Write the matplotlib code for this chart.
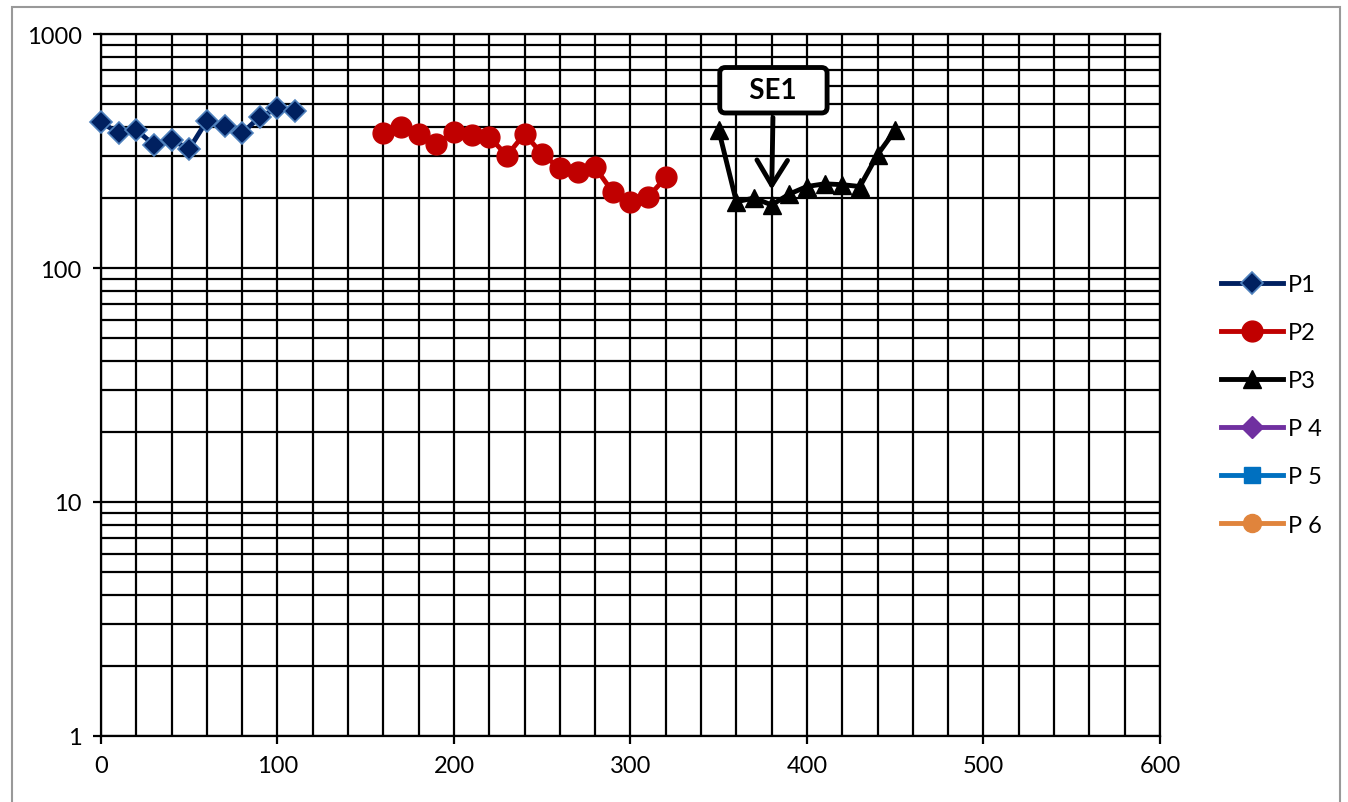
import numpy as np
import matplotlib
matplotlib.use('Agg')
import matplotlib.pyplot as plt
from matplotlib.patches import Rectangle
from matplotlib.ticker import LogLocator, FixedLocator, NullFormatter

plt.rcParams['font.family'] = ['Lato', 'DejaVu Sans']

# data
p1_x = [0, 10, 20, 30, 40, 50, 60, 70, 80, 90, 100, 110]
p1_y = [420, 377, 389, 336, 352, 323, 426, 406, 377, 443, 481, 469]

p2_x = [160, 170, 180, 190, 200, 210, 220, 230, 240, 250, 260, 270, 280, 290, 300, 310, 320]
p2_y = [377, 401, 373, 338, 383, 369, 364, 302, 375, 306, 267, 257, 269, 211, 191, 201, 244]

p3_x = [350, 360, 370, 380, 390, 400, 410, 420, 430, 440, 450]
p3_y = [388, 192, 199, 186, 207, 223, 229, 227, 223, 305, 388]

p4_x, p4_y = [], []
p5_x, p5_y = [], []
p6_x, p6_y = [], []

fig = plt.figure(figsize=(13.48, 8.03), dpi=100)
ax = fig.add_axes([0.0749, 0.0822, 0.7856, 0.8742])

ax.plot(p1_x, p1_y, color='#002060', lw=3.5, marker='D', ms=11,
        mfc='#002060', mec='#4F81BD', mew=1.2, label='P1', zorder=5, clip_on=False)
ax.plot(p2_x, p2_y, color='#C00000', lw=3.5, marker='o', ms=15,
        mfc='#C00000', mec='#C00000', label='P2', zorder=5)
ax.plot(p3_x, p3_y, color='black', lw=3.5, marker='^', ms=13,
        mfc='black', mec='black', label='P3', zorder=5)
ax.plot(p4_x, p4_y, color='#7030A0', lw=3.5, marker='D', ms=11, label='P 4')
ax.plot(p5_x, p5_y, color='#0070C0', lw=3.5, marker='s', ms=11, label='P 5')
ax.plot(p6_x, p6_y, color='#E0843C', lw=3.5, marker='o', ms=13, label='P 6')

ax.set_yscale('log')
ax.set_xlim(0, 600)
ax.set_ylim(1, 1000)
ax.set_xticks(np.arange(0, 601, 100))
ax.xaxis.set_minor_locator(FixedLocator(np.arange(0, 601, 20)))
ax.yaxis.set_major_locator(FixedLocator([1, 10, 100, 1000]))
ax.set_yticklabels(['1', '10', '100', '1000'])
ax.yaxis.set_minor_locator(LogLocator(base=10, subs=np.arange(2, 10)))
ax.yaxis.set_minor_formatter(NullFormatter())

ax.grid(True, which='both', color='black', lw=1.6)
ax.set_axisbelow(True)
ax.tick_params(which='major', length=6, width=1.6, labelsize=17, pad=8)
ax.tick_params(which='minor', length=0)
for s in ax.spines.values():
    s.set_color('black')
    s.set_linewidth(1.6)

ax.annotate('   SE1   ', xy=(380, 210), xytext=(381, 575),
            ha='center', va='center', fontsize=20, fontweight='bold',
            bbox=dict(boxstyle='round,pad=0.35,rounding_size=0.2', fc='white',
                      ec='black', lw=3.5),
            arrowprops=dict(arrowstyle='->,head_length=0.9,head_width=0.55',
                            color='black', lw=3.5),
            zorder=6)

ax.legend(loc='center left', bbox_to_anchor=(1.038, 0.472), frameon=False,
          fontsize=17, handlelength=2.6, labelspacing=1.15, handletextpad=0.2)

fig.patches.append(Rectangle((0.009, -0.01), 0.985, 1.0, transform=fig.transFigure,
                             fill=False, ec='#999999', lw=1.5))

fig.savefig('out.png', dpi=100)
